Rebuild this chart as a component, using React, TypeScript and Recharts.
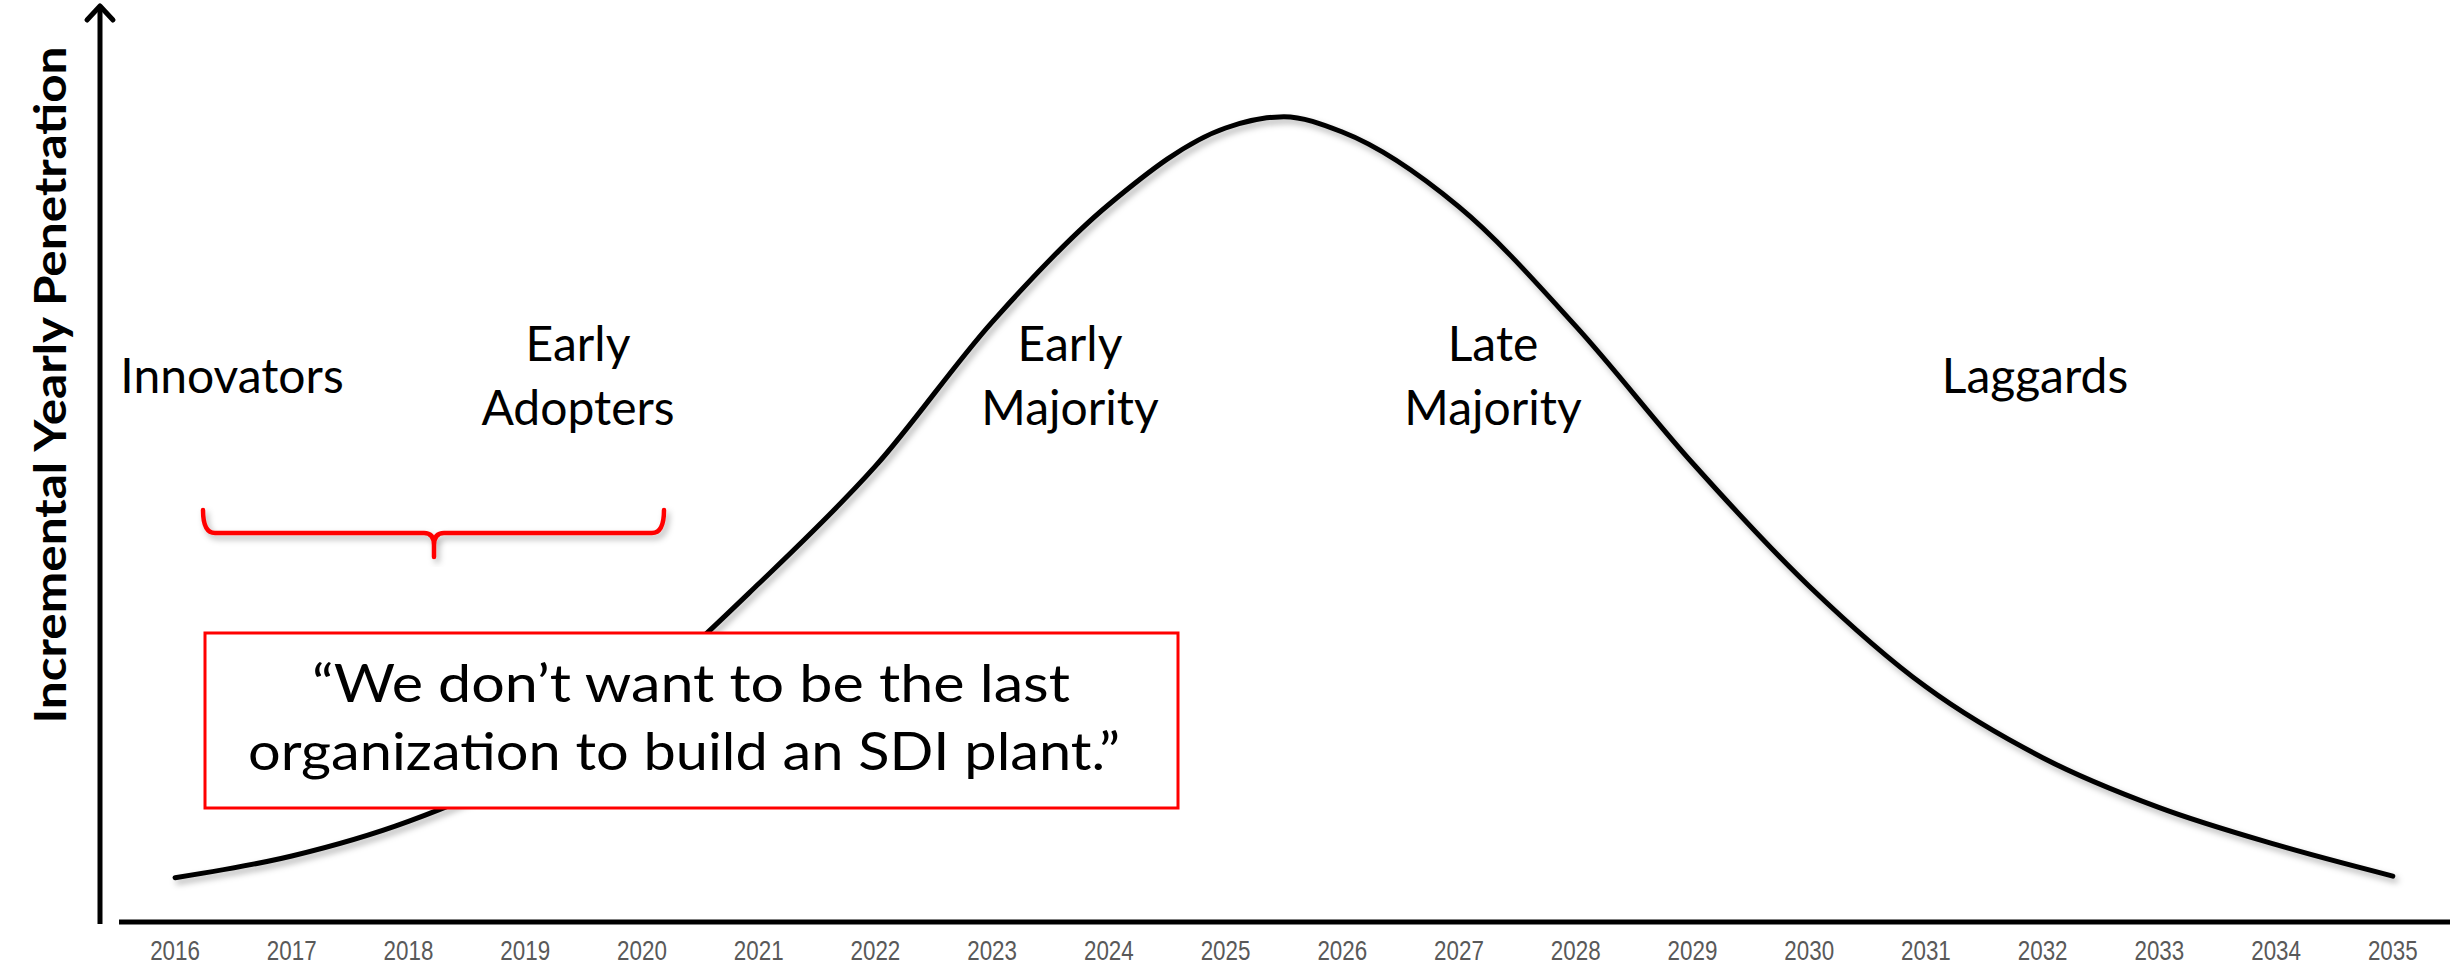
import { LineChart, Line, XAxis, YAxis, ReferenceLine } from "recharts";

const W = 2458;
const H = 973;

// x axis tick labels (years)
const tickYears = [
  2016, 2017, 2018, 2019, 2020, 2021, 2022, 2023, 2024, 2025,
  2026, 2027, 2028, 2029, 2030, 2031, 2032, 2033, 2034, 2035,
];

// adoption curve (peak = 100)
const curveYears = [
  2016, 2017, 2018, 2019, 2020, 2021, 2022, 2023, 2024, 2025, 2025.5,
  2026, 2027, 2028, 2029, 2030, 2031, 2032, 2033, 2034, 2035,
];
const penetration = [
  5.5, 8.2, 12.5, 18.9, 28.8, 42.0, 56.6, 74.5, 89.1, 98.6, 100,
  98.1, 88.8, 74.0, 57.0, 41.7, 29.2, 20.4, 14.2, 9.6, 5.7,
];

const yTitle = "Incremental Yearly Penetration";
const stageNames = [
  ["Innovators"],
  ["Early", "Adopters"],
  ["Early", "Majority"],
  ["Late", "Majority"],
  ["Laggards"],
];
const quoteLines = [
  "\u201CWe don\u2019t want to be the last",
  "organization to build an SDI plant.\u201D",
];

const X_DOMAIN = [2015.357, 2035.49];
const Y_DOMAIN = [0, 113.5];
const X_AXIS_START = 2015.52;

const SANS = "Lato, 'Open Sans', sans-serif";

// label centres in px (centre x, first baseline)
const stagePos = [
  { x: 232, y: 393 },
  { x: 578, y: 361 },
  { x: 1070, y: 361 },
  { x: 1493, y: 361 },
  { x: 2035, y: 393 },
];

// narrow grey year labels (Arial Narrow look)
function YearTick(props: any) {
  const { x, y, payload } = props;
  return (
    <text
      transform={`translate(${x},${y + 19}) scale(0.8,1)`}
      textAnchor="middle"
      fontFamily="'Liberation Sans', Arial, sans-serif"
      fontSize={28}
      fill="#595959"
    >
      {payload.value}
    </text>
  );
}

export default function App() {
  const data = curveYears.map((year, i) => ({ year, value: penetration[i] }));

  return (
    <div
      style={{
        position: "absolute",
        left: 0,
        top: 0,
        width: W,
        height: H,
        background: "#fff",
      }}
    >
      <svg width={0} height={0} style={{ position: "absolute" }}>
        <defs>
          <filter id="softShadow" x="-5%" y="-10%" width="110%" height="130%">
            <feDropShadow dx={3} dy={4} stdDeviation={3} floodColor="#000" floodOpacity={0.3} />
          </filter>
        </defs>
      </svg>

      <LineChart
        width={W}
        height={H}
        data={data}
        margin={{ top: 8, right: 8, bottom: 0, left: 100 }}
      >
        <XAxis
          dataKey="year"
          type="number"
          domain={X_DOMAIN}
          ticks={tickYears}
          interval={0}
          axisLine={false}
          tickLine={false}
          tickSize={0}
          tickMargin={19}
          height={51}
          allowDataOverflow
          tick={<YearTick />}
        />
        <YAxis type="number" domain={Y_DOMAIN} width={0} hide allowDataOverflow />
        <ReferenceLine
          segment={[
            { x: X_AXIS_START, y: 0 },
            { x: X_DOMAIN[1], y: 0 },
          ]}
          stroke="#000"
          strokeWidth={5}
          ifOverflow="visible"
        />
        <Line
          type="monotone"
          dataKey="value"
          stroke="#000"
          strokeWidth={5}
          strokeLinecap="round"
          dot={false}
          activeDot={false}
          filter="url(#softShadow)"
          isAnimationActive={false}
        />
      </LineChart>

      <svg
        width={W}
        height={H}
        style={{ position: "absolute", left: 0, top: 0, pointerEvents: "none" }}
      >
        {/* y axis with open arrow head */}
        <line x1={100} y1={7} x2={100} y2={924} stroke="#000" strokeWidth={5} />
        <path
          d="M87,20 L100,6 L113,20"
          fill="none"
          stroke="#000"
          strokeWidth={5}
          strokeLinecap="round"
          strokeLinejoin="round"
        />

        <text
          transform="translate(66,385) rotate(-90)"
          textAnchor="middle"
          fontFamily={SANS}
          fontWeight={700}
          fontSize={44}
          textLength={677}
          lengthAdjust="spacingAndGlyphs"
          fill="#000"
        >
          {yTitle}
        </text>

        {stageNames.map((lines, i) => (
          <text
            key={i}
            x={stagePos[i].x}
            y={stagePos[i].y}
            textAnchor="middle"
            fontFamily={SANS}
            fontSize={48}
            fill="#000"
          >
            {lines.map((ln, j) => (
              <tspan key={j} x={stagePos[i].x} dy={j === 0 ? 0 : 64}>
                {ln}
              </tspan>
            ))}
          </text>
        ))}

        <path
          d="M203,510 Q203,533 215,533 L424,533 Q434,533 434,545 L434,557 M434,545 Q434,533 444,533 L652,533 Q664,533 664,510"
          fill="none"
          stroke="#ff0000"
          strokeWidth={4.5}
          strokeLinecap="round"
          strokeLinejoin="round"
          filter="url(#softShadow)"
        />

        <rect x={205} y={633} width={973} height={175} fill="#fff" stroke="#ff0000" strokeWidth={3} />
        <text
          x={691}
          y={702}
          textAnchor="middle"
          fontFamily={SANS}
          fontSize={52}
          textLength={758}
          lengthAdjust="spacingAndGlyphs"
          fill="#000"
        >
          {quoteLines[0]}
        </text>
        <text
          x={684}
          y={770}
          textAnchor="middle"
          fontFamily={SANS}
          fontSize={52}
          textLength={872}
          lengthAdjust="spacingAndGlyphs"
          fill="#000"
        >
          {quoteLines[1]}
        </text>
      </svg>
    </div>
  );
}
